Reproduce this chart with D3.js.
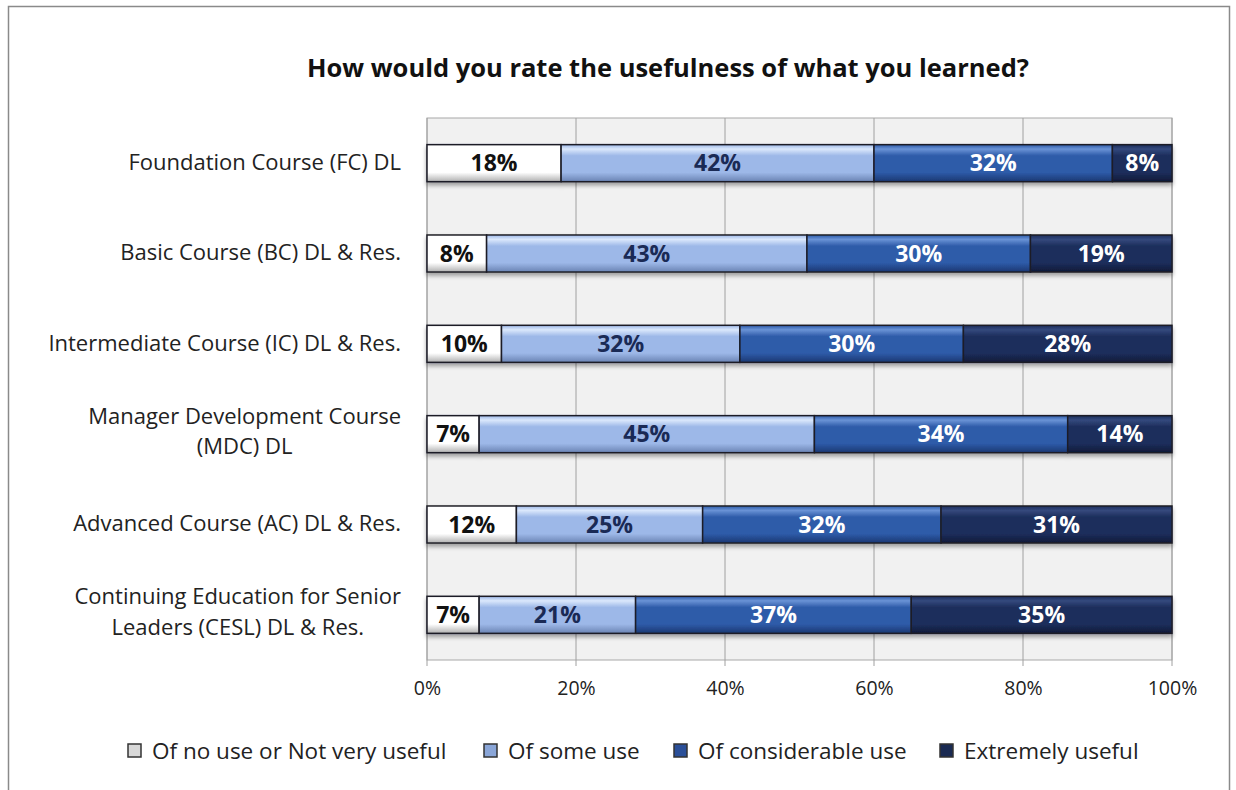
<!DOCTYPE html>
<html>
<head>
<meta charset="utf-8">
<script src="https://cdn.jsdelivr.net/npm/d3@7"></script>
<style>
  html, body { margin: 0; padding: 0; background: #fff; }
  svg { display: block; }
  text { font-family: "Open Sans", Lato, sans-serif; }
</style>
</head>
<body>
<svg id="chart" width="1236" height="790"></svg>
<script>
// Survey responses per course, percent of respondents
const courses = [
  ["Foundation Course (FC) DL"],
  ["Basic Course (BC) DL & Res."],
  ["Intermediate Course (IC) DL & Res."],
  ["Manager Development Course", "(MDC) DL"],
  ["Advanced Course (AC) DL & Res."],
  ["Continuing Education for Senior", "Leaders (CESL) DL & Res."]
];
const seriesNames = ["Of no use or Not very useful", "Of some use", "Of considerable use", "Extremely useful"];
const noUse        = [18, 8, 10, 7, 12, 7];
const someUse      = [42, 43, 32, 45, 25, 21];
const considerable = [32, 30, 30, 34, 32, 37];
const extremely    = [8, 19, 28, 14, 31, 35];
const xTicks = [0, 20, 40, 60, 80, 100];

const seriesValues = [noUse, someUse, considerable, extremely];
const palette = [
  { top: "#ffffff", mid: "#ffffff", bot: "#b0b0b0", text: "#111111", leg: "#d8d8d8" },
  { top: "#dbe8fc", mid: "#9db8e8", bot: "#6a83b3", text: "#1a2a55", leg: "#8aa6d8" },
  { top: "#6a93d6", mid: "#2e5ba9", bot: "#1b3872", text: "#ffffff", leg: "#2a4f98" },
  { top: "#34497d", mid: "#1d2e5c", bot: "#0f1a38", text: "#ffffff", leg: "#1a2a52" }
];

const svg = d3.select("#chart");
const defs = svg.append("defs");

palette.forEach((p, i) => {
  const g = defs.append("linearGradient").attr("id", "grad" + i)
    .attr("x1", 0).attr("y1", 0).attr("x2", 0).attr("y2", 1);
  g.append("stop").attr("offset", "0%").attr("stop-color", p.mid);
  g.append("stop").attr("offset", "12%").attr("stop-color", p.top);
  g.append("stop").attr("offset", "30%").attr("stop-color", p.mid);
  g.append("stop").attr("offset", "75%").attr("stop-color", p.mid);
  g.append("stop").attr("offset", "100%").attr("stop-color", p.bot);
});
const shadow = defs.append("filter").attr("id", "shadow")
  .attr("x", "-5%").attr("y", "-20%").attr("width", "110%").attr("height", "160%");
shadow.append("feDropShadow").attr("dx", 0).attr("dy", 3).attr("stdDeviation", 2)
  .attr("flood-color", "#000").attr("flood-opacity", 0.35);

// Outer chart frame
svg.append("rect").attr("x", 8.5).attr("y", 6.5).attr("width", 1221).attr("height", 800)
  .attr("fill", "none").attr("stroke", "#8a8a8a").attr("stroke-width", 1.5);

// Title
svg.append("text").attr("x", 668).attr("y", 77).attr("text-anchor", "middle")
  .attr("font-size", 25.5).attr("font-weight", 700).attr("fill", "#111")
  .text("How would you rate the usefulness of what you learned?");

const plot = { left: 427, right: 1172, top: 118, bottom: 660 };
const x = d3.scaleLinear().domain([0, 100]).range([plot.left, plot.right]);
const y = d3.scaleBand().domain(d3.range(courses.length))
  .range([plot.top, plot.bottom]).paddingInner(0.59).paddingOuter(0.295);

// Plot area background
svg.append("rect").attr("x", plot.left).attr("y", plot.top)
  .attr("width", plot.right - plot.left).attr("height", plot.bottom - plot.top)
  .attr("fill", "#f1f1f1").attr("stroke", "#a8a8a8").attr("stroke-width", 1);

// Vertical gridlines with small ticks below the axis
svg.append("g").selectAll("line").data(xTicks).join("line")
  .attr("x1", d => x(d)).attr("x2", d => x(d))
  .attr("y1", plot.top).attr("y2", plot.bottom + 6)
  .attr("stroke", "#a0a0a0").attr("stroke-width", 1);

// X axis labels
const xAxis = d3.axisBottom(x).tickValues(xTicks).tickFormat(d => d + "%").tickSize(0).tickPadding(0);
const xg = svg.append("g").attr("transform", `translate(0,${plot.bottom + 21})`).call(xAxis);
xg.select(".domain").remove();
xg.selectAll("text").attr("font-size", 19.5).attr("fill", "#222")
  .attr("font-family", "'Open Sans', Lato, sans-serif");

// Category labels (two-line labels are centred on each other, right edge at 401)
const catG = svg.append("g");
const labelSize = 22;
courses.forEach((lines, i) => {
  const cy = y(i) + y.bandwidth() / 2;
  if (lines.length === 1) {
    catG.append("text").attr("font-size", labelSize).attr("fill", "#222")
      .attr("x", 401).attr("y", cy - 1).attr("dy", "0.35em").attr("text-anchor", "end").text(lines[0]);
  } else {
    const lh = 30.5;
    const texts = lines.map((l, k) => catG.append("text")
      .attr("font-size", labelSize).attr("fill", "#222")
      .attr("y", cy - 3 + (k - (lines.length - 1) / 2) * lh)
      .attr("dy", "0.35em").attr("text-anchor", "middle").text(l));
    const w = d3.max(texts, t => t.node().getComputedTextLength());
    texts.forEach(t => t.attr("x", 401 - w / 2));
  }
});

// Stacked bars
const stacked = courses.map((c, i) => {
  let acc = 0;
  return seriesValues.map((vals, s) => {
    const v = vals[i];
    const seg = { row: i, s, v, x0: acc, x1: acc + v };
    acc += v;
    return seg;
  });
});

const barsG = svg.append("g").attr("filter", "url(#shadow)");
barsG.selectAll("g.row").data(stacked).join("g").attr("class", "row")
  .selectAll("rect").data(d => d).join("rect")
  .attr("x", d => x(d.x0)).attr("width", d => x(d.x1) - x(d.x0))
  .attr("y", d => y(d.row)).attr("height", y.bandwidth())
  .attr("fill", d => `url(#grad${d.s})`)
  .attr("stroke", "#1e1e28").attr("stroke-width", 1.5);

// Value labels
const labelsG = svg.append("g");
stacked.flat().forEach(d => {
  labelsG.append("text")
    .attr("x", (x(d.x0) + x(d.x1)) / 2).attr("y", y(d.row) + y.bandwidth() / 2)
    .attr("dy", "0.36em").attr("text-anchor", "middle")
    .attr("font-size", 23).attr("font-weight", 700)
    .attr("fill", palette[d.s].text).text(d.v + "%");
});

// Legend
const legendX = [128, 484, 674, 940];
const legendY = 751;
const legG = svg.append("g");
seriesNames.forEach((name, i) => {
  legG.append("rect").attr("x", legendX[i]).attr("y", legendY - 7).attr("width", 13).attr("height", 13)
    .attr("fill", palette[i].leg).attr("stroke", "#333").attr("stroke-width", 1.5);
  legG.append("text").attr("x", legendX[i] + 24).attr("y", legendY).attr("dy", "0.35em")
    .attr("font-size", 22.5).attr("fill", "#222").text(name);
});
</script>
</body>
</html>
